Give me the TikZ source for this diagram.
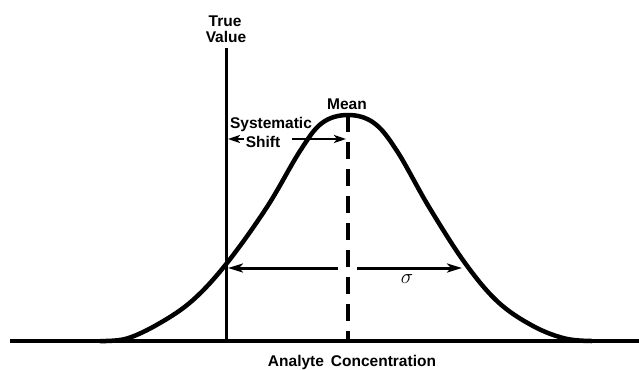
\documentclass[tikz,border=0pt]{standalone}
\usepackage{fontspec}
\setmainfont{Liberation Sans}
\usetikzlibrary{arrows.meta}
\begin{document}
\begin{tikzpicture}[x=1pt,y=-1pt,
  thick line/.style={line width=3.5pt},
  curve line/.style={line width=4.5pt,line join=round},
  dim arrow/.style={line width=3pt,-{Stealth[length=15pt,width=9pt,inset=4pt]}},
  shift arrow/.style={line width=2.5pt,-{Stealth[length=12pt,width=8pt,inset=3pt]}},
  lbl/.style={font=\fontsize{15.5}{16}\selectfont\bfseries,inner sep=0pt}]
\useasboundingbox (0,0) rectangle (639,369);
% coordinates
\coordinate (baseL) at (10,341);
\coordinate (baseR) at (639,341);
\coordinate (tvTop) at (226,48);
\coordinate (tvBot) at (226,341);
\coordinate (mnTop) at (348,115);
\coordinate (mnBot) at (348,341);
\coordinate (sigL) at (228,268);
\coordinate (sigML) at (338,268);
\coordinate (sigMR) at (357,268);
\coordinate (sigR) at (462,268);
\coordinate (shL) at (228,139);
\coordinate (shLs) at (244,139);
\coordinate (shRs) at (292,139);
\coordinate (shR) at (346,139);
% baseline
\draw[thick line] (baseL) -- (baseR);
% true value line
\draw[line width=3pt] (tvTop) -- (tvBot);
% gaussian curve
\draw[curve line] plot[smooth,tension=0.6] coordinates {
 (100,341) (127,338.5) (160,323) (193,300) (227,263) (267,207) (300,151)
 (322,123) (348,115) (374,123) (397,151) (429,207) (465,263) (498,302)
 (533,326) (565,338.5) (592,341)};
% mean dashed line
\draw[line width=4pt,dash pattern=on 17pt off 10pt] (mnTop) -- (mnBot);
% sigma arrows
\draw[dim arrow] (sigML) -- (sigL);
\draw[dim arrow] (sigMR) -- (sigR);
% systematic shift arrows
\draw[shift arrow] (shLs) -- (shL);
\draw[shift arrow] (shRs) -- (shR);
% labels
\node[lbl] (tv1) at (225,21) {True};
\node[lbl] (tv2) at (226,37) {Value};
\node[lbl] (mean) at (347,104) {Mean};
\node[lbl] (sys) at (271,124) {Systematic};
\node[lbl] (shift) at (263,142) {Shift};
\node[font=\fontsize{22}{24}\selectfont,inner sep=0pt] (sigma) at (407,279) {$\sigma$};
\node[lbl] (ac) at (352,362) {Analyte\hspace{7pt}Concentration};
\end{tikzpicture}
\end{document}
